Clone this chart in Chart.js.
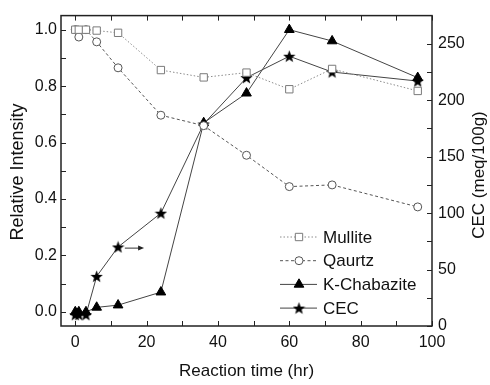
<!DOCTYPE html>
<html>
<head>
<meta charset="utf-8">
<script src="https://cdn.jsdelivr.net/npm/chart.js@4.4.0/dist/chart.umd.min.js"></script>
<style>
    html, body { margin: 0; padding: 0; background: #fff; }
    #wrap { width: 490px; height: 385px; }
</style>
</head>
<body>
<div id="wrap"><canvas id="resultChart" width="490" height="385"></canvas></div>
<script>
const times = [0, 1, 3, 6, 12, 24, 36, 48, 60, 72, 96];
const mullite = [1.0, 1.0, 1.0, 0.997, 0.989, 0.857, 0.831, 0.848, 0.789, 0.861, 0.783];
const quartz = [1.0, 0.974, 1.0, 0.957, 0.865, 0.697, 0.66, 0.555, 0.444, 0.45, 0.372];
const chabazite = [0, 0, 0, 0.016, 0.024, 0.07, 0.67, 0.775, 1.0, 0.96, 0.83];
const cec = [10, 10, 10, 44, 70, 100, 179, 220, 239, 225, 217];

const seriesNames = ['Mullite', 'Qaurtz', 'K-Chabazite', 'CEC'];
const xTickLabels = [0, 20, 40, 60, 80, 100];
const leftTickLabels = [0.0, 0.2, 0.4, 0.6, 0.8, 1.0];
const rightTickLabels = [0, 50, 100, 150, 200, 250];

// arrow next to the CEC curve, pointing to the right axis (x in hr, y in CEC units)
const arrowFrom = [13.9, 69];
const arrowTo = [19.3, 69];

const FONT = '"Liberation Sans", Arial, sans-serif';

function toPoints(ys) {
    return times.map((t, i) => ({ x: t, y: ys[i] }));
}

// tick positions (labels are only put on some of them)
function tickRange(from, to, step) {
    const out = [];
    const n = Math.round((to - from) / step);
    for (let i = 0; i <= n; i++) {
        out.push({ value: Math.round((from + i * step) * 1000) / 1000 });
    }
    return out;
}

// filled five-point star, Chart.js only has the line-drawn one
function makeStar(size) {
    const c = document.createElement('canvas');
    c.width = size;
    c.height = size;
    const g = c.getContext('2d');
    const cx = size / 2, cy = size / 2 + 0.6, R = size / 2, r = R * 0.42;
    g.beginPath();
    for (let i = 0; i < 10; i++) {
        const a = -Math.PI / 2 + i * Math.PI / 5;
        const rad = i % 2 ? r : R;
        g.lineTo(cx + rad * Math.cos(a), cy + rad * Math.sin(a));
    }
    g.closePath();
    g.fillStyle = '#000';
    g.fill();
    return c;
}
const starImg = makeStar(13);

// frame, inward tick marks, titles, legend and the arrow
const decorations = {
    id: 'decorations',
    afterDatasetsDraw(chart) {
        const ctx = chart.ctx;
        const a = chart.chartArea;
        const sx = chart.scales.x, sy = chart.scales.y, sy2 = chart.scales.y2;
        ctx.save();
        ctx.strokeStyle = '#222';
        ctx.lineWidth = 1;
        ctx.beginPath();
        sx.ticks.forEach(t => {
            const px = Math.round(sx.getPixelForValue(t.value)) + 0.5;
            ctx.moveTo(px, a.bottom); ctx.lineTo(px, a.bottom - 5);
            ctx.moveTo(px, a.top); ctx.lineTo(px, a.top + 5);
        });
        sy.ticks.forEach(t => {
            const py = Math.round(sy.getPixelForValue(t.value)) + 0.5;
            ctx.moveTo(a.left, py); ctx.lineTo(a.left + 5, py);
        });
        sy2.ticks.forEach(t => {
            const py = Math.round(sy2.getPixelForValue(t.value)) + 0.5;
            ctx.moveTo(a.right, py); ctx.lineTo(a.right - 5, py);
        });
        ctx.stroke();
        ctx.lineWidth = 1.5;
        ctx.strokeRect(a.left, a.top, a.right - a.left, a.bottom - a.top);

        // arrow
        const x1 = sx.getPixelForValue(arrowFrom[0]), y1 = sy2.getPixelForValue(arrowFrom[1]);
        const x2 = sx.getPixelForValue(arrowTo[0]), y2 = sy2.getPixelForValue(arrowTo[1]);
        ctx.strokeStyle = '#333';
        ctx.fillStyle = '#222';
        ctx.lineWidth = 1;
        ctx.beginPath();
        ctx.moveTo(x1, y1); ctx.lineTo(x2 - 4, y2);
        ctx.stroke();
        ctx.beginPath();
        ctx.moveTo(x2, y2); ctx.lineTo(x2 - 6, y2 - 2.5); ctx.lineTo(x2 - 6, y2 + 2.5);
        ctx.closePath();
        ctx.fill();
        ctx.restore();
    },
    afterDraw(chart) {
        const ctx = chart.ctx;
        const a = chart.chartArea;
        ctx.save();
        ctx.fillStyle = '#111';
        ctx.textAlign = 'center';
        ctx.textBaseline = 'middle';

        ctx.font = '17px ' + FONT;
        ctx.fillText('Reaction time (hr)', (a.left + a.right) / 2, 371);

        ctx.save();
        ctx.translate(18, 172);
        ctx.rotate(-Math.PI / 2);
        ctx.font = '18px ' + FONT;
        ctx.fillText('Relative Intensity', 0, 0);
        ctx.restore();

        ctx.save();
        ctx.translate(479, 175);
        ctx.rotate(-Math.PI / 2);
        ctx.font = '17px ' + FONT;
        ctx.fillText('CEC (meq/100g)', 0, 0);
        ctx.restore();

        // legend
        ctx.textAlign = 'left';
        ctx.font = '17px ' + FONT;
        chart.data.datasets.forEach((ds, i) => {
            const y = 237 + i * 23.7;
            ctx.save();
            ctx.strokeStyle = ds.borderColor;
            ctx.lineWidth = ds.borderWidth;
            ctx.setLineDash(ds.borderDash || []);
            ctx.beginPath();
            ctx.moveTo(280, y); ctx.lineTo(317, y);
            ctx.stroke();
            ctx.setLineDash([]);
            ctx.fillStyle = ds.pointBackgroundColor;
            ctx.strokeStyle = ds.pointBorderColor;
            ctx.lineWidth = ds.pointBorderWidth;
            Chart.helpers.drawPoint(ctx, {
                pointStyle: ds.pointStyle,
                radius: ds.pointRadius,
                rotation: 0,
                borderWidth: ds.pointBorderWidth
            }, 299, y);
            ctx.restore();
            ctx.fillStyle = '#111';
            ctx.fillText(ds.label, 323, y + 1);
        });
        ctx.restore();
    }
};

const ctx = document.getElementById('resultChart');

new Chart(ctx, {
    type: 'line',
    data: {
        datasets: [{
            label: seriesNames[0],
            data: toPoints(mullite),
            yAxisID: 'y',
            borderColor: '#8c8c8c',
            borderWidth: 1,
            borderDash: [1.5, 2],
            pointStyle: 'rect',
            pointRadius: 5.2,
            pointBackgroundColor: '#fff',
            pointBorderColor: '#7a7a7a',
            pointBorderWidth: 1
        }, {
            label: seriesNames[1],
            data: toPoints(quartz),
            yAxisID: 'y',
            borderColor: '#555',
            borderWidth: 1,
            borderDash: [3, 2.5],
            pointStyle: 'circle',
            pointRadius: 4,
            pointBackgroundColor: '#fff',
            pointBorderColor: '#555',
            pointBorderWidth: 1
        }, {
            label: seriesNames[2],
            data: toPoints(chabazite),
            yAxisID: 'y',
            borderColor: '#444',
            borderWidth: 1,
            pointStyle: 'triangle',
            pointRadius: 5.6,
            pointBackgroundColor: '#000',
            pointBorderColor: '#000',
            pointBorderWidth: 1
        }, {
            label: seriesNames[3],
            data: toPoints(cec),
            yAxisID: 'y2',
            borderColor: '#444',
            borderWidth: 1,
            pointStyle: starImg,
            pointRadius: 6,
            pointBackgroundColor: '#000',
            pointBorderColor: '#000',
            pointBorderWidth: 1
        }]
    },
    options: {
        responsive: false,
        animation: false,
        devicePixelRatio: 1,
        events: [],
        layout: { padding: { top: 5, left: 0, right: 0, bottom: 0 } },
        plugins: {
            legend: { display: false },
            tooltip: { enabled: false }
        },
        scales: {
            x: {
                type: 'linear',
                min: -4,
                max: 100,
                grid: { display: false, drawTicks: false },
                border: { display: false },
                afterBuildTicks: s => { s.ticks = tickRange(0, 100, 10); },
                afterFit: s => { s.height = 59; },
                ticks: {
                    autoSkip: false,
                    maxRotation: 0,
                    padding: 7,
                    color: '#111',
                    font: { family: FONT, size: 16 },
                    callback: v => xTickLabels.includes(v) ? String(v) : ''
                }
            },
            y: {
                position: 'left',
                min: -0.05,
                max: 1.05,
                grid: { display: false, drawTicks: false },
                border: { display: false },
                afterBuildTicks: s => { s.ticks = tickRange(0, 1, 0.1); },
                afterFit: s => { s.width = 61; },
                ticks: {
                    autoSkip: false,
                    padding: 4,
                    color: '#111',
                    font: { family: FONT, size: 16 },
                    callback: v => leftTickLabels.includes(v) ? v.toFixed(1) : ''
                }
            },
            y2: {
                position: 'right',
                min: 0,
                max: 275,
                grid: { display: false, drawTicks: false },
                border: { display: false },
                afterBuildTicks: s => { s.ticks = tickRange(0, 250, 25); },
                afterFit: s => { s.width = 58; },
                ticks: {
                    autoSkip: false,
                    padding: 6,
                    color: '#111',
                    font: { family: FONT, size: 16 },
                    callback: v => rightTickLabels.includes(v) ? String(v) : ''
                }
            }
        }
    },
    plugins: [decorations]
});
</script>
</body>
</html>
